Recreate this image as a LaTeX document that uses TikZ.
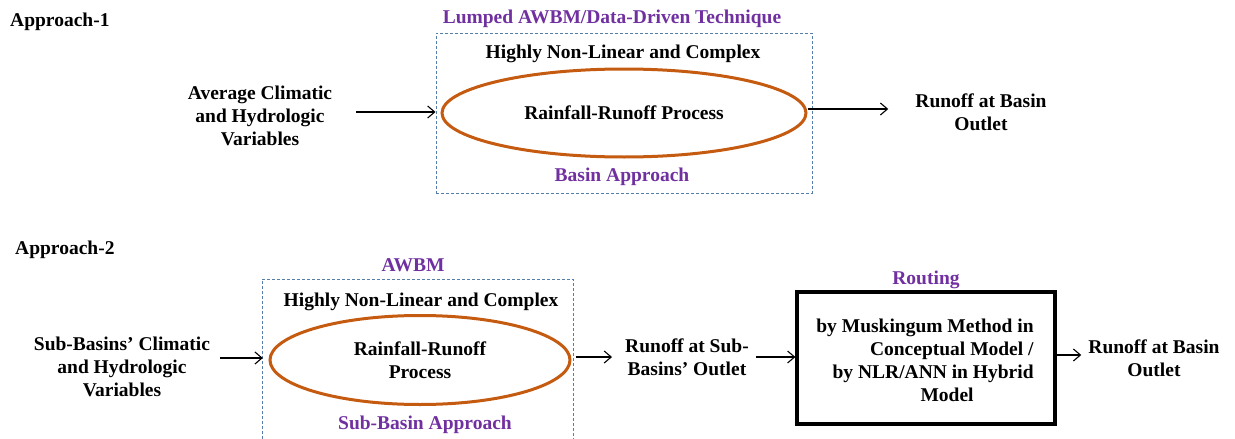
\documentclass[tikz,border=0pt]{standalone}
\usepackage{fontspec}
\setmainfont{Liberation Serif}[BoldFont={Liberation Serif Bold}]
\usetikzlibrary{shapes.geometric,arrows.meta}
\definecolor{purp}{RGB}{112,48,160}
\definecolor{orng}{RGB}{197,90,17}
\definecolor{dashblue}{RGB}{84,125,170}
\begin{document}
\begin{tikzpicture}[x=1pt,y=-1pt,
  every node/.style={font=\bfseries\fontsize{19.5}{23}\selectfont, inner sep=0pt, align=center},
  lbl/.style={text=purp},
  dashbox/.style={draw=dashblue, line width=1pt, dash pattern=on 3pt off 2pt},
  proc/.style={ellipse, draw=orng, line width=3pt},
  routebox/.style={draw=black, line width=3.2pt},
  arr/.style={-{Straight Barb[length=7pt,width=12pt]}, line width=1.1pt}]
\useasboundingbox (0,0) rectangle (1235,439);

% Approach 1
\node[anchor=west] (ap1) at (10,22) {Approach-1};
\node[lbl] (lump) at (612,19) {Lumped AWBM/Data-Driven Technique};
\node[dashbox, minimum width=376pt, minimum height=160pt] (box1) at (624,113) {};
\node (hnl1) at (623,54) {Highly Non-Linear and Complex};
\node[proc, minimum width=364pt, minimum height=88pt] (ell1) at (624,113) {Rainfall-Runoff Process};
\node[lbl] (ba) at (622,177) {Basin Approach};
\node (in1) at (260,116) {Average Climatic\\and Hydrologic\\Variables};
\node (out1) at (981,112) {Runoff at Basin\\Outlet};
\draw[arr, shorten <=24pt] (in1.east |- 0,112) -- (box1.west |- 0,112);
\draw[arr, shorten >=27pt] (ell1.east |- 0,109) -- (out1.west |- 0,109);

% Approach 2
\node[anchor=west] (ap2) at (15,250) {Approach-2};
\node[lbl] (awbm) at (413,265) {AWBM};
\node[minimum width=310pt, minimum height=160pt, anchor=north] (box2) at (418,279) {};
\draw[dashbox] (box2.south west) -- (box2.north west) -- (box2.north east) -- (box2.south east);
\node (hnl2) at (421,302) {Highly Non-Linear and Complex};
\node[proc, minimum width=300pt, minimum height=89pt] (ell2) at (420,360) {Rainfall-Runoff\\Process};
\node[lbl] (sba) at (425,425) {Sub-Basin Approach};
\node (in2) at (122,367) {Sub-Basins’ Climatic\\and Hydrologic\\Variables};
\node (rsub) at (687,357) {Runoff at Sub-\\Basins’ Outlet};
\node[lbl] (rout) at (926,280) {Routing};
\node[routebox, minimum width=258pt, minimum height=132pt] (rbox) at (926,358) {};
\node[align=right] (rtext) at (925,360) {by Muskingum Method in\\Conceptual Model /\\by NLR/ANN in Hybrid\\Model\hspace*{60pt}\mbox{}};
\node (out2) at (1154,358) {Runoff at Basin\\Outlet};
\draw[arr, shorten <=10pt] (in2.east |- 0,358) -- (box2.west |- 0,358);
\draw[arr, shorten <=4pt, shorten >=13pt] (ell2.east |- 0,357) -- (rsub.west |- 0,357);
\draw[arr, shorten <=7pt] (rsub.east |- 0,357) -- (rbox.west |- 0,357);
\draw[arr, shorten >=7pt] (rbox.east |- 0,355) -- (out2.west |- 0,355);
\end{tikzpicture}
\end{document}
